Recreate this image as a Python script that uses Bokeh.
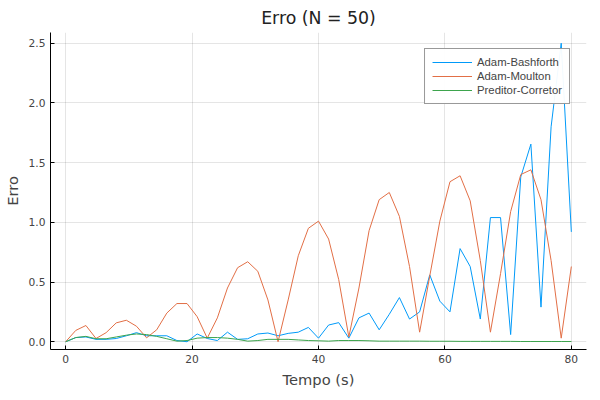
import numpy as np

from bokeh.embed import file_html
from bokeh.models import Range1d, Legend, FixedTicker, NumeralTickFormatter
from bokeh.plotting import figure
from bokeh.resources import INLINE

t = np.linspace(0, 80, 51)

adam_bashforth = [0, .035, .04, .02, .02, .027, .05, .076, .05, .05, .05, .01, 0, .065,
                  .027, .01, .08, .02, .025, .065, .073, .05, .07, .08, .12,
                  .03, .14, .16, .03, .2, .24, .1, .23, .37, .19, .25, .56, .34, .25,
                  .78, .63, .19, 1.04, 1.04, .06, 1.38, 1.655, .29, 1.8, 2.5, .92]
adam_moulton = [0, .095, .136, .027, .076, .158, .18, .13, .033, .10, .24, .32, .32,
                .21, .03, .20, .45, .62, .67, .59, .35, 0, .35, .72, .95,
                1.01, .86, .52, .04, .45, .93, 1.19, 1.25, 1.05, .63, .08, .55, 1.01,
                1.34, 1.39, 1.18, .68, .08, .57, 1.09, 1.40, 1.44, 1.19, .68, .03, .63]
preditor_corretor = [0, .035, .045, .025, .025, .04, .055, .065, .06, .045, .025, .005,
                     .01, .03, .035, .035, .03, .02, .005, .01, .02, .02, .02, .015,
                     .01, .008, .005, .01, .01, .01, .008, .005, .005, .005, .005, .005,
                     .004, .004, .004, .003, .003, .003, .003, .003, .003, .002, .002,
                     .002, .002, .002, .002]

p = figure(width=590, height=390, output_backend="svg", toolbar_location=None,
           title="Erro (N = 50)", x_axis_label="Tempo (s)", y_axis_label="Erro",
           min_border_right=4, min_border_bottom=4)
p.x_range = Range1d(-2.4, 82.4)
p.y_range = Range1d(-0.065, 2.59)

r1 = p.line(t, adam_bashforth, color="#009af9", line_width=1)
r2 = p.line(t, adam_moulton, color="#e26f46", line_width=1)
r3 = p.line(t, preditor_corretor, color="#3da44d", line_width=1)

legend = Legend(items=[("Adam-Bashforth", [r1]), ("Adam-Moulton", [r2]),
                       ("Preditor-Corretor", [r3])], location="top_right")
legend.label_text_font_size = "8.5pt"
legend.label_text_font = "Liberation Sans"
legend.border_line_color = "#333333"
legend.glyph_width = 40
legend.glyph_height = 12
legend.spacing = 2
legend.label_height = 12
legend.padding = 7
legend.margin = 16
p.add_layout(legend)

p.title.align = "center"
p.title.text_font = "DejaVu Sans"
p.title.text_font_size = "13pt"
p.title.text_font_style = "normal"
p.title.text_color = "#222222"

p.xaxis.ticker = FixedTicker(ticks=[0, 20, 40, 60, 80])
p.yaxis.ticker = FixedTicker(ticks=[0, 0.5, 1.0, 1.5, 2.0, 2.5])
p.yaxis.formatter = NumeralTickFormatter(format="0.0")
for ax in (p.xaxis, p.yaxis):
    ax.axis_label_text_font = "DejaVu Sans"
    ax.axis_label_text_font_size = "11pt"
    ax.axis_label_text_font_style = "normal"
    ax.major_label_text_font = "DejaVu Sans"
    ax.major_label_text_font_size = "8pt"
    ax.minor_tick_line_color = None
    ax.major_tick_in = 4
    ax.major_tick_out = 0
p.grid.grid_line_color = "#000000"
p.grid.grid_line_alpha = 0.1
p.outline_line_color = None

open("out.html", "w").write(file_html(p, INLINE))
